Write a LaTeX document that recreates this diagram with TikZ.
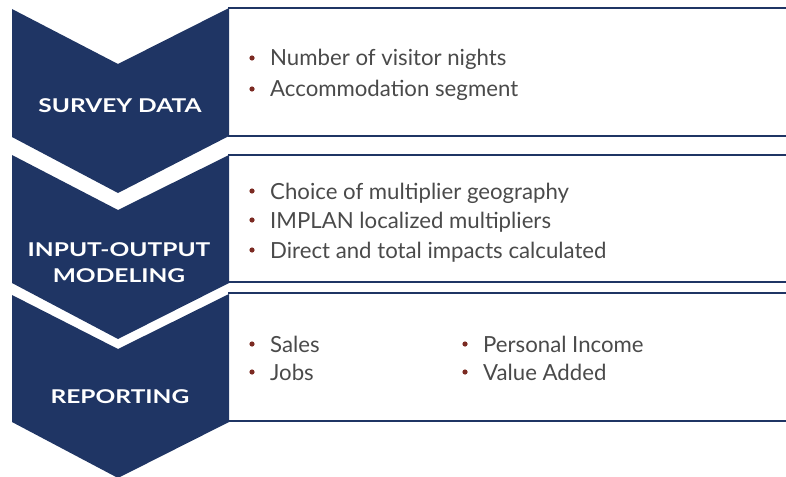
\documentclass[tikz,border=0pt]{standalone}
\usepackage{fontspec}
\setmainfont{Lato}
\definecolor{navy}{HTML}{1F3564}
\definecolor{bul}{HTML}{7B2A22}
\definecolor{txt}{HTML}{4A4A4A}
\newcommand{\wide}[1]{\scalebox{1.29}[1]{#1}}
\begin{document}
\begin{tikzpicture}[x=1pt,y=-1pt,
  chev/.style={fill=navy},
  boxline/.style={draw=navy, line width=1.8pt},
  lab/.style={text=white, font=\bfseries\fontsize{19}{26}\selectfont, anchor=base, inner sep=0pt},
  item/.style={anchor=base west, text=txt, font=\fontsize{22.2}{26}\selectfont, inner sep=0pt},
  dot/.style={circle, fill=bul, inner sep=0pt, minimum size=5.2pt}]
\useasboundingbox (0,0) rectangle (786,476);
% boxes
\fill[white] (228,8) rectangle (800,136);
\draw[boxline] (228,8) -- (800,8) (228,136) -- (800,136);
\draw[boxline] (228,155) -- (800,155) (228,282) -- (800,282);
\draw[boxline] (228,293) -- (800,293) (228,421) -- (800,421);
% chevrons
\fill[chev] (12,9) -- (118,64) -- (229,8) -- (229,136) -- (118,193) -- (12,137) -- cycle;
\fill[chev] (12,155) -- (118,210) -- (229,155) -- (229,283) -- (118,339) -- (12,283) -- cycle;
\fill[chev] (12,295) -- (118,349) -- (229,294) -- (229,422) -- (118,478) -- (12,422) -- cycle;
% labels
\node[lab] (l1) at (120,113) {\wide{SURVEY DATA}};
\node[lab] (l2a) at (119,256) {\wide{INPUT-OUTPUT}};
\node[lab] (l2b) at (119,282) {\wide{MODELING}};
\node[lab] (l3) at (120,403) {\wide{REPORTING}};
% items
\node[item] (a1) at (270,66) {Number of visitor nights};
\node[item] (a2) at (270,97) {Accommodation segment};
\node[item] (b1) at (270,199) {Choice of multiplier geography};
\node[item] (b2) at (270,228) {IMPLAN localized multipliers};
\node[item] (b3) at (270,258) {Direct and total impacts calculated};
\node[item] (c1) at (270,352) {Sales};
\node[item] (c2) at (270,380) {Jobs};
\node[item] (c3) at (483,352) {Personal Income};
\node[item] (c4) at (483,380) {Value Added};
\foreach \n in {a1,a2,b1,b2,b3,c1,c2,c3,c4}
  \node[dot] (d\n) at ([xshift=-18pt,yshift=8pt]\n.base west) {};
\end{tikzpicture}
\end{document}
